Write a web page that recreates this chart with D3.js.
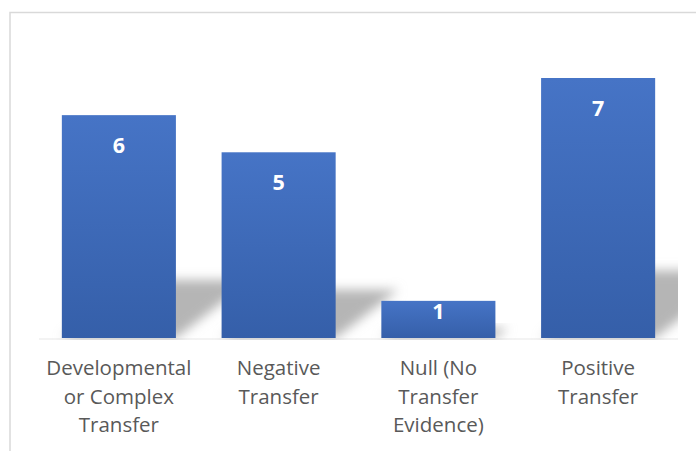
<!DOCTYPE html>
<html><head><meta charset="utf-8">
<script src="https://cdn.jsdelivr.net/npm/d3@7"></script>
<style>html,body{margin:0;padding:0;background:#fff;overflow:hidden}</style>
</head><body>
<script>
const categories = [
  ["Developmental", "or Complex", "Transfer"],
  ["Negative", "Transfer"],
  ["Null (No", "Transfer", "Evidence)"],
  ["Positive", "Transfer"]
];
const values = [6, 5, 1, 7];

const W = 696, H = 451;
const svg = d3.select("body").append("svg").attr("width", W).attr("height", H);
const defs = svg.append("defs");

const grad = defs.append("linearGradient").attr("id", "barGrad")
  .attr("x1", 0).attr("y1", 0).attr("x2", 0).attr("y2", 1);
grad.append("stop").attr("offset", "0%").attr("stop-color", "#4674c6");
grad.append("stop").attr("offset", "100%").attr("stop-color", "#355fa9");

const blur = defs.append("filter").attr("id", "shBlur")
  .attr("x", "-50%").attr("y", "-50%").attr("width", "200%").attr("height", "200%");
blur.append("feGaussianBlur").attr("stdDeviation", 5.5);

// chart border
svg.append("rect").attr("x", 10).attr("y", 12.5).attr("width", 720).attr("height", 460)
  .attr("fill", "#fff").attr("stroke", "#d9d9d9").attr("stroke-width", 1.5);

const plot = {left: 39, right: 678, top: 30, bottom: 338};
defs.append("clipPath").attr("id", "plotClip").append("rect")
  .attr("x", plot.left).attr("y", plot.top)
  .attr("width", plot.right - plot.left).attr("height", plot.bottom - plot.top + 2);

const x = d3.scaleBand().domain(d3.range(values.length))
  .range([plot.left, plot.right]).paddingInner(0.286).paddingOuter(0.143);
const y = d3.scaleLinear().domain([0, 7]).range([plot.bottom, plot.bottom - 260]);

// axis line
svg.append("line").attr("x1", plot.left).attr("x2", plot.right)
  .attr("y1", plot.bottom + 1).attr("y2", plot.bottom + 1)
  .attr("stroke", "#efefef").attr("stroke-width", 1.5);

// shadows
const shG = svg.append("g").attr("clip-path", "url(#plotClip)");
shG.selectAll("path").data(values).join("path")
  .attr("d", (d, i) => {
    const x0 = x(i), x1 = x(i) + x.bandwidth(), yb = y(0);
    const h = (y(0) - y(d)) * 0.26, dx = h * 1.3;
    return `M${x0},${yb}L${x1},${yb}L${x1 + dx},${yb - h}L${x0 + dx},${yb - h}Z`;
  })
  .attr("fill", "#b5b5b5").attr("filter", "url(#shBlur)");

// bars
svg.append("g").selectAll("rect").data(values).join("rect")
  .attr("x", (d, i) => x(i)).attr("width", x.bandwidth())
  .attr("y", d => y(d)).attr("height", d => y(0) - y(d))
  .attr("fill", "url(#barGrad)");

// value labels
svg.append("g").selectAll("text").data(values).join("text")
  .attr("x", (d, i) => x(i) + x.bandwidth() / 2)
  .attr("y", d => y(d) + Math.min(38, (y(0) - y(d)) / 2))
  .attr("text-anchor", "middle")
  .attr("font-family", "'Open Sans', sans-serif").attr("font-weight", "bold")
  .attr("font-size", 21.5).attr("fill", "#fff")
  .text(d => d);

// category labels
const catG = svg.append("g");
categories.forEach((lines, i) => {
  const t = catG.append("text")
    .attr("x", x(i) + x.bandwidth() / 2).attr("y", 375)
    .attr("text-anchor", "middle")
    .attr("font-family", "'Open Sans', sans-serif")
    .attr("font-size", 20.5).attr("fill", "#595959");
  lines.forEach((ln, j) => {
    t.append("tspan").attr("x", x(i) + x.bandwidth() / 2)
      .attr("y", 375 + j * 28.5).text(ln);
  });
});
</script>
</body></html>
